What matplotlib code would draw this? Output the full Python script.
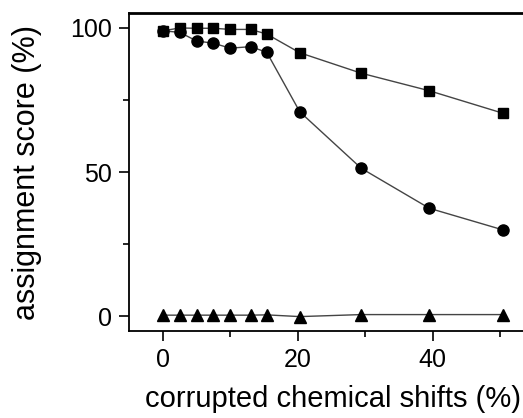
import numpy as np
import matplotlib
matplotlib.use("Agg")
import matplotlib.pyplot as plt

plt.rcParams['font.family'] = ['Liberation Sans', 'DejaVu Sans']

# corrupted chemical shifts (%)
x = [0, 2.5, 5, 7.5, 10, 13, 15.4, 20.3, 29.4, 39.5, 50.4]

# assignment score (%)
squares = [99.0, 100.0, 99.9, 99.9, 99.5, 99.5, 97.9, 91.4, 84.3, 78.2, 70.4]
circles = [99.0, 98.5, 95.5, 94.7, 93.0, 93.5, 91.6, 70.9, 51.3, 37.4, 29.9]
triangles = [0.3, 0.3, 0.3, 0.3, 0.3, 0.3, 0.4, -0.2, 0.5, 0.5, 0.5]

fig = plt.figure(figsize=(5.23, 4.18), dpi=100)
# axes box; right edge runs past the figure like the cropped original
ax = fig.add_axes([129 / 523, 87 / 418, 405 / 523, 318 / 418])

line_kw = dict(color='#444444', lw=1.0, markerfacecolor='black',
               markeredgecolor='black', clip_on=False)
ax.plot(x, squares, marker='s', ms=7.2, **line_kw)
ax.plot(x, circles, marker='o', ms=8, **line_kw)
ax.plot(x, triangles, marker='^', ms=8, **line_kw)

ax.set_xlim(-5, 55)
ax.set_ylim(-5.2, 105.2)
ax.set_xticks([0, 20, 40])
ax.set_xticks([10, 30, 50], minor=True)
ax.set_yticks([0, 50, 100])
ax.set_yticks([25, 75], minor=True)

ax.tick_params(which='major', direction='out', length=7, width=1.2,
               labelsize=18, pad=5)
ax.tick_params(which='minor', direction='out', length=4, width=1.2)
ax.spines['right'].set_visible(False)
for s in ['left', 'bottom']:
    ax.spines[s].set_linewidth(1.3)
ax.spines['top'].set_linewidth(2)

fig.text(0.052, 0.587, 'assignment score (%)', rotation=90, fontsize=22,
         ha='center', va='center')
fig.text(0.996, 0.045, 'corrupted chemical shifts (%)', fontsize=21,
         ha='right', va='center')

fig.savefig('out.png', dpi=100)
